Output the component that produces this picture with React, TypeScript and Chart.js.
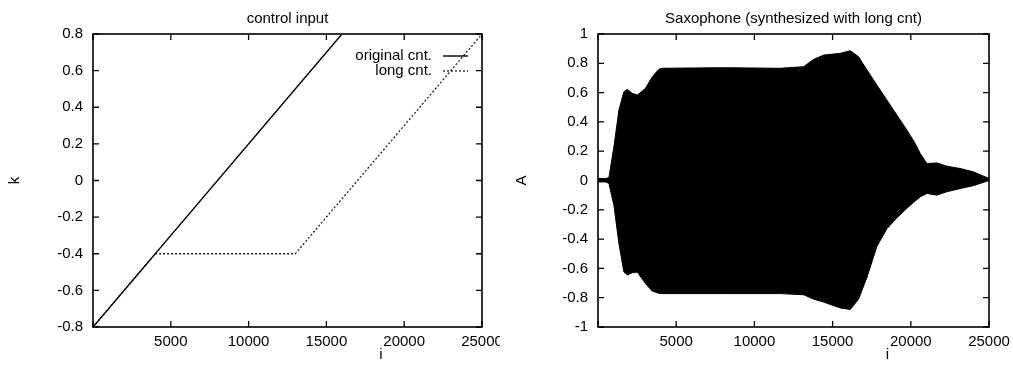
import React, { useEffect, useRef } from 'react';
import { Chart, registerables } from 'chart.js';
Chart.register(...registerables);

// ---------- data ----------
const iTicks = [0, 5000, 10000, 15000, 20000, 25000];
const iTickLabels = ['', '5000', '10000', '15000', '20000', '25000'];
const kTicks = [-0.8, -0.6, -0.4, -0.2, 0, 0.2, 0.4, 0.6, 0.8];
const kTickLabels = ['-0.8', '-0.6', '-0.4', '-0.2', '0', '0.2', '0.4', '0.6', '0.8'];
const aTicks = [-1, -0.8, -0.6, -0.4, -0.2, 0, 0.2, 0.4, 0.6, 0.8, 1];
const aTickLabels = ['-1', '-0.8', '-0.6', '-0.4', '-0.2', '0', '0.2', '0.4', '0.6', '0.8', '1'];

const origI = [0, 16000];
const origK = [-0.8, 0.8];
const longI = [0, 4000, 13000, 25000];
const longK = [-0.8, -0.4, -0.4, 0.8];

const envI = [0, 500, 700, 1017, 1336, 1655, 1870, 2190, 2510, 3040, 3470, 3890, 4100, 8000, 11650, 13150, 13790, 14430, 15490, 16130, 16660, 17200, 17830, 18470, 19110, 19750, 20280, 20600, 21030, 21670, 22300, 23160, 24000, 25000];
const envUpper = [0.014, 0.014, 0.02, 0.23, 0.48, 0.606, 0.622, 0.595, 0.583, 0.629, 0.708, 0.759, 0.766, 0.77, 0.766, 0.777, 0.827, 0.856, 0.868, 0.886, 0.845, 0.754, 0.652, 0.549, 0.447, 0.344, 0.253, 0.185, 0.116, 0.12, 0.098, 0.082, 0.059, 0.014];
const envLower = [-0.01, -0.01, -0.02, -0.17, -0.43, -0.624, -0.645, -0.63, -0.625, -0.704, -0.755, -0.77, -0.772, -0.772, -0.772, -0.78, -0.81, -0.83, -0.87, -0.88, -0.81, -0.66, -0.45, -0.33, -0.255, -0.19, -0.14, -0.112, -0.088, -0.1, -0.077, -0.055, -0.035, 0];

// ---------- styling ----------
const FONT = '"Liberation Sans", Arial, Helvetica, sans-serif';
const FONT_SIZE = 15;
const INK = '#000';

const gpPlugin = {
  id: 'gp',
  afterDraw(chart: any, _args: any, opts: any) {
    const { ctx, chartArea: a, scales } = chart;
    ctx.save();
    ctx.strokeStyle = INK;
    ctx.lineWidth = 1.6;
    ctx.strokeRect(a.left, a.top, a.right - a.left, a.bottom - a.top);
    ctx.lineWidth = 1.3;
    const tl = 6;
    ctx.beginPath();
    scales.x.ticks.forEach((t: any) => {
      const x = scales.x.getPixelForValue(t.value);
      ctx.moveTo(x, a.bottom); ctx.lineTo(x, a.bottom - tl);
      ctx.moveTo(x, a.top); ctx.lineTo(x, a.top + tl);
    });
    scales.y.ticks.forEach((t: any) => {
      const y = scales.y.getPixelForValue(t.value);
      ctx.moveTo(a.left, y); ctx.lineTo(a.left + tl, y);
      ctx.moveTo(a.right, y); ctx.lineTo(a.right - tl, y);
    });
    ctx.stroke();

    ctx.fillStyle = INK;
    ctx.font = `${FONT_SIZE}px ${FONT}`;
    ctx.textAlign = 'center';
    ctx.textBaseline = 'middle';
    ctx.fillText(opts.title, (a.left + a.right) / 2, opts.titleY);
    ctx.fillText(opts.xlabel, a.left + opts.xlabelFrac * (a.right - a.left), opts.xlabelY);
    ctx.save();
    ctx.translate(opts.ylabelX, (a.top + a.bottom) / 2);
    ctx.rotate(-Math.PI / 2);
    ctx.fillText(opts.ylabel, 0, 0);
    ctx.restore();

    if (opts.legend) {
      chart.data.datasets.forEach((ds: any, idx: number) => {
        const y = a.top + 22 + idx * 15;
        ctx.textAlign = 'right';
        ctx.fillStyle = INK;
        ctx.fillText(ds.label, a.right - 50, y);
        ctx.beginPath();
        ctx.strokeStyle = ds.borderColor;
        ctx.lineWidth = ds.borderWidth;
        ctx.setLineDash(ds.borderDash || []);
        ctx.moveTo(a.right - 39, y);
        ctx.lineTo(a.right - 14, y);
        ctx.stroke();
        ctx.setLineDash([]);
      });
    }
    ctx.restore();
  },
};

function makeScales(yTicks: number[], yLabels: string[], yMin: number, yMax: number, yWidth: number) {
  return {
    x: {
      type: 'linear',
      min: 0,
      max: 25000,
      afterBuildTicks: (s: any) => { s.ticks = iTicks.map((v) => ({ value: v })); },
      ticks: {
        autoSkip: false,
        maxRotation: 0,
        padding: 6,
        color: INK,
        font: { family: FONT, size: FONT_SIZE },
        callback: (v: any) => iTickLabels[iTicks.indexOf(Number(v))] ?? '',
      },
      grid: { display: false, drawTicks: false },
      border: { display: false },
      afterFit: (s: any) => { s.height = 38; s.paddingLeft = 0; s.paddingRight = 0; },
    },
    y: {
      type: 'linear',
      min: yMin,
      max: yMax,
      afterBuildTicks: (s: any) => { s.ticks = yTicks.map((v) => ({ value: v })); },
      ticks: {
        autoSkip: false,
        padding: 10,
        color: INK,
        font: { family: FONT, size: FONT_SIZE },
        callback: (v: any) => {
          const idx = yTicks.findIndex((t) => Math.abs(t - Number(v)) < 1e-9);
          return idx >= 0 ? yLabels[idx] : '';
        },
      },
      grid: { display: false, drawTicks: false },
      border: { display: false },
      afterFit: (s: any) => { s.width = yWidth; s.paddingTop = 0; s.paddingBottom = 0; },
    },
  };
}

function LeftChart() {
  const ref = useRef<HTMLCanvasElement>(null);
  useEffect(() => {
    const chart = new Chart(ref.current!, {
      type: 'line',
      data: {
        datasets: [
          {
            label: 'original cnt.',
            data: origI.map((x, j) => ({ x, y: origK[j] })),
            borderColor: INK,
            borderWidth: 1.4,
            pointRadius: 0,
            fill: false,
          },
          {
            label: 'long cnt.',
            data: longI.map((x, j) => ({ x, y: longK[j] })),
            borderColor: '#222',
            borderWidth: 1.3,
            borderDash: [2, 2],
            pointRadius: 0,
            fill: false,
          },
        ],
      },
      options: {
        responsive: false,
        animation: false,
        events: [],
        layout: { padding: { top: 34, right: 18, bottom: 0, left: 0 } },
        plugins: {
          legend: { display: false },
          tooltip: { enabled: false },
          gp: { title: 'control input', titleY: 19, xlabel: 'i', xlabelFrac: 0.74, xlabelY: 355, ylabel: 'k', ylabelX: 15, legend: true },
        } as any,
        scales: makeScales(kTicks, kTickLabels, -0.8, 0.8, 93) as any,
      },
      plugins: [gpPlugin as any],
    });
    return () => chart.destroy();
  }, []);
  return <canvas ref={ref} width={500} height={365} />;
}

function RightChart() {
  const ref = useRef<HTMLCanvasElement>(null);
  useEffect(() => {
    const chart = new Chart(ref.current!, {
      type: 'line',
      data: {
        datasets: [
          {
            label: 'upper',
            data: envI.map((x, j) => ({ x, y: envUpper[j] })),
            borderColor: '#000',
            backgroundColor: '#000',
            borderWidth: 1,
            pointRadius: 0,
            fill: '+1',
          },
          {
            label: 'lower',
            data: envI.map((x, j) => ({ x, y: envLower[j] })),
            borderColor: '#000',
            borderWidth: 1,
            pointRadius: 0,
            fill: false,
          },
        ],
      },
      options: {
        responsive: false,
        animation: false,
        events: [],
        layout: { padding: { top: 34, right: 24, bottom: 0, left: 0 } },
        plugins: {
          legend: { display: false },
          tooltip: { enabled: false },
          filler: { propagate: false },
          gp: { title: 'Saxophone (synthesized with long cnt)', titleY: 19, xlabel: 'i', xlabelFrac: 0.74, xlabelY: 355, ylabel: 'A', ylabelX: 22, legend: false },
        } as any,
        scales: makeScales(aTicks, aTickLabels, -1, 1, 98) as any,
      },
      plugins: [gpPlugin as any],
    });
    return () => chart.destroy();
  }, []);
  return <canvas ref={ref} width={513} height={365} />;
}

export default function App() {
  return (
    <div style={{ position: 'absolute', left: 0, top: 0, width: 1013, height: 365, background: '#fff', overflow: 'hidden' }}>
      <div style={{ position: 'absolute', left: 0, top: 0, width: 500, height: 365 }}>
        <LeftChart />
      </div>
      <div style={{ position: 'absolute', left: 500, top: 0, width: 513, height: 365 }}>
        <RightChart />
      </div>
    </div>
  );
}
